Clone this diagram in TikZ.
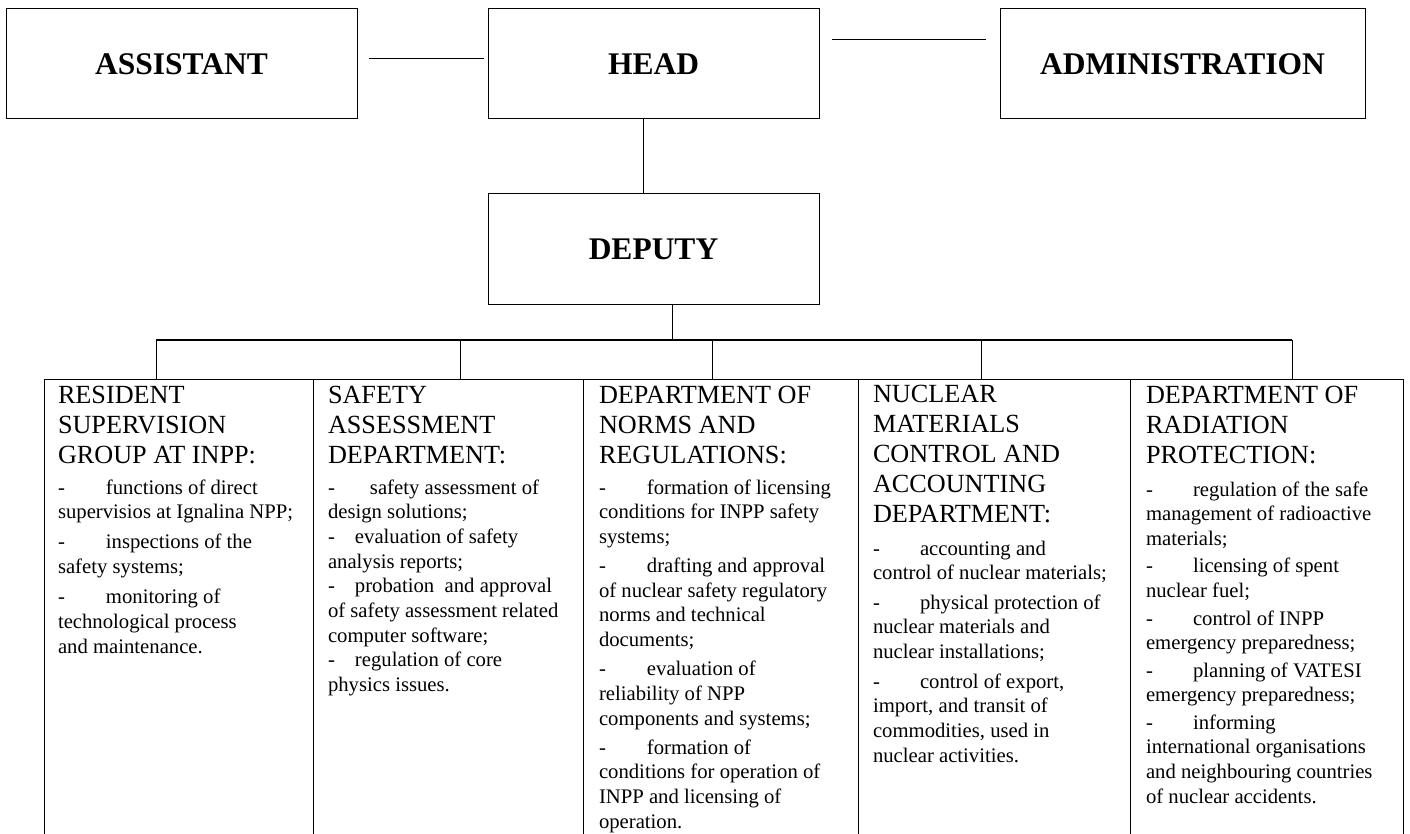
\documentclass[tikz,border=0pt]{standalone}
\usepackage{fontspec}
\setmainfont{Liberation Serif}
\usetikzlibrary{calc}
\newcommand\itemdash[1]{\makebox[#1][l]{-}}
\newcommand\colfont{\fontsize{20.7}{24.7}\selectfont}
\newcommand\hfont{\fontsize{26.2}{30}\selectfont}
\begin{document}
\begin{tikzpicture}[x=1pt,y=-1pt,
  topbox/.style={draw, line width=1pt, inner sep=0pt, outer sep=0pt, anchor=north west,
    font=\fontsize{31.5}{36}\selectfont\bfseries, minimum height=110pt},
  deptbox/.style={draw, line width=1pt, inner sep=0pt, outer sep=0pt, anchor=north west, minimum height=460pt},
  conn/.style={line width=1pt},
  busline/.style={line width=1.3pt},
  coltext/.style={anchor=base west, inner sep=0pt, outer sep=0pt}]
\useasboundingbox (0,0) rectangle (1410,834);

% top boxes
\node[topbox, minimum width=351pt] (asst) at (6,9) {ASSISTANT};
\node[topbox, minimum width=331pt] (head) at (488,9) {HEAD};
\node[topbox, minimum width=365pt] (admin) at (1000,9) {ADMINISTRATION};
\node[topbox, minimum width=331pt] (dep) at (488,194) {DEPUTY};

% department boxes
\node[deptbox, minimum width=269pt] (d1) at (44,379) {};
\node[deptbox, minimum width=270pt] (d2) at (313,379) {};
\node[deptbox, minimum width=275pt] (d3) at (583,379) {};
\node[deptbox, minimum width=272pt] (d4) at (858,379) {};
\node[deptbox, minimum width=273pt] (d5) at (1130,379) {};

% connectors
\draw[conn] ($(asst.north east)+(12,50)$) -- ($(head.north west)+(-4,50)$);
\draw[conn] ($(head.north east)+(13,31)$) -- ($(admin.north west)+(-14,31)$);
\draw[conn] ($(head.south west)+(155,0)$) -- ($(dep.north west)+(155,0)$);
\coordinate (s1) at (156,340);
\coordinate (s2) at (460,340);
\coordinate (sd) at (672,340);
\coordinate (s3) at (712,340);
\coordinate (s4) at (981,340);
\coordinate (s5) at (1292,340);
\draw[conn] (dep.south west -| sd) -- (sd);
\draw[busline] (s1) -- (s5);
\draw[conn] (s1) -- (s1 |- d1.north);
\draw[conn] (s2) -- (s2 |- d2.north);
\draw[conn] (s3) -- (s3 |- d3.north);
\draw[conn] (s4) -- (s4 |- d4.north);
\draw[conn] (s5) -- (s5 |- d5.north);

% column texts
\node[coltext] (t1) at (58,403) {\colfont\begin{tabular}[t]{@{}l@{}}
\hfont RESIDENT\\[5.3pt]
\hfont SUPERVISION\\[5.3pt]
\hfont GROUP AT INPP:\\[6.3pt]
\itemdash{48pt}functions of direct\\
supervisios at Ignalina NPP;\\[5.4pt]
\itemdash{48pt}inspections of the\\
safety systems;\\[5.4pt]
\itemdash{48pt}monitoring of\\
technological process\\
and maintenance.
\end{tabular}};

\node[coltext] (t2) at (328,403) {\colfont\begin{tabular}[t]{@{}l@{}}
\hfont SAFETY\\[5.3pt]
\hfont ASSESSMENT\\[5.3pt]
\hfont DEPARTMENT:\\[6.3pt]
\itemdash{42pt}safety assessment of\\
design solutions;\\
\itemdash{27pt}evaluation of safety\\
analysis reports;\\
\itemdash{27pt}probation\ \ and approval\\
of safety assessment related\\
computer software;\\
\itemdash{27pt}regulation of core\\
physics issues.
\end{tabular}};

\node[coltext] (t3) at (599,403) {\colfont\begin{tabular}[t]{@{}l@{}}
\hfont DEPARTMENT OF\\[5.3pt]
\hfont NORMS AND\\[5.3pt]
\hfont REGULATIONS:\\[6.3pt]
\itemdash{48pt}formation of licensing\\
conditions for INPP safety\\
systems;\\[4.3pt]
\itemdash{48pt}drafting and approval\\
of nuclear safety regulatory\\
norms and technical\\
documents;\\[4.3pt]
\itemdash{48pt}evaluation of\\
reliability of NPP\\
components and systems;\\[4.3pt]
\itemdash{48pt}formation of\\
conditions for operation of\\
INPP and licensing of\\
operation.
\end{tabular}};

\node[coltext] (t4) at (873,402) {\colfont\begin{tabular}[t]{@{}l@{}}
\hfont NUCLEAR\\[5.3pt]
\hfont MATERIALS\\[5.3pt]
\hfont CONTROL AND\\[5.3pt]
\hfont ACCOUNTING\\[5.3pt]
\hfont DEPARTMENT:\\[8.3pt]
\itemdash{47pt}accounting and\\
control of nuclear materials;\\[4.7pt]
\itemdash{47pt}physical protection of\\
nuclear materials and\\
nuclear installations;\\[4.7pt]
\itemdash{47pt}control of export,\\
import, and transit of\\
commodities, used in\\
nuclear activities.
\end{tabular}};

\node[coltext] (t5) at (1146,403) {\colfont\begin{tabular}[t]{@{}l@{}}
\hfont DEPARTMENT OF\\[5.3pt]
\hfont RADIATION\\[5.3pt]
\hfont PROTECTION:\\[8.3pt]
\itemdash{47pt}regulation of the safe\\
management of radioactive\\
materials;\\[2.7pt]
\itemdash{47pt}licensing of spent\\
nuclear fuel;\\[2.7pt]
\itemdash{47pt}control of INPP\\
emergency preparedness;\\[2.7pt]
\itemdash{47pt}planning of VATESI\\
emergency preparedness;\\[2.7pt]
\itemdash{47pt}informing\\
international organisations\\
and neighbouring countries\\
of nuclear accidents.
\end{tabular}};
\end{tikzpicture}
\end{document}
